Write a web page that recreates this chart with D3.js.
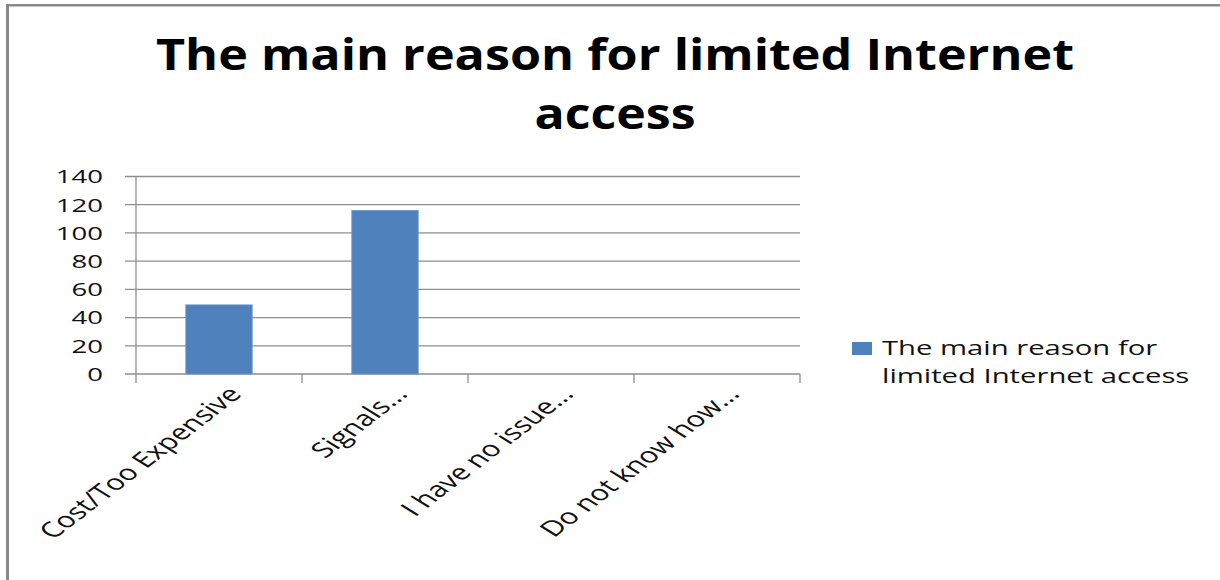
<!DOCTYPE html>
<html><head><meta charset="utf-8">
<script src="https://cdn.jsdelivr.net/npm/d3@7/dist/d3.min.js"></script>
<style>body{margin:0;background:#fff}svg{display:block}text{font-family:"Open Sans",sans-serif}</style>
</head><body>
<script>
const categories = ["Cost/Too Expensive", "Signals...", "I have no issue...", "Do not know how..."];
const values = [49, 116, 0, 0];
const yTicks = [0, 20, 40, 60, 80, 100, 120, 140];
const titleLines = ["The main reason for limited Internet", "access"];
const legendLines = ["The main reason for", "limited Internet access"];

const W = 1220, H = 580;
const svg = d3.select("body").append("svg").attr("width", W).attr("height", H);

// outer chart border (left/top visible)
svg.append("line").attr("x1", 6).attr("x2", W).attr("y1", 5.2).attr("y2", 5.2)
  .attr("stroke", "#8a8a8a").attr("stroke-width", 2.4);
svg.append("line").attr("x1", 7.5).attr("x2", 7.5).attr("y1", 4).attr("y2", H)
  .attr("stroke", "#8a8a8a").attr("stroke-width", 3);

const plot = {left: 136, right: 800, top: 176.5, bottom: 374};
const x = d3.scaleBand().domain(categories).range([plot.left, plot.right]).paddingInner(0.6).paddingOuter(0.3);
const xb = d3.scaleBand().domain(categories).range([plot.left, plot.right]);
const y = d3.scaleLinear().domain([0, 140]).range([plot.bottom, plot.top]);
const grey = "#8e8e8e";

// gridlines + y ticks
svg.append("g").selectAll("line").data(yTicks).join("line")
  .attr("x1", plot.left - 11).attr("x2", plot.right)
  .attr("y1", d => y(d)).attr("y2", d => y(d))
  .attr("stroke", grey).attr("stroke-width", 1.3);

// y axis line
svg.append("line").attr("x1", plot.left).attr("x2", plot.left)
  .attr("y1", y(140)).attr("y2", plot.bottom + 9).attr("stroke", grey).attr("stroke-width", 1.3);

// x ticks at band boundaries
const bounds = categories.map(c => xb(c)).concat([plot.right]);
svg.append("g").selectAll("line").data(bounds.slice(1)).join("line")
  .attr("x1", d => d).attr("x2", d => d)
  .attr("y1", plot.bottom).attr("y2", plot.bottom + 9)
  .attr("stroke", grey).attr("stroke-width", 1.3);

// y labels
svg.append("g").selectAll("text").data(yTicks).join("text")
  .attr("transform", d => `translate(103,${y(d)}) scale(1.45,1)`)
  .attr("text-anchor", "end").attr("dy", "0.36em")
  .attr("font-size", 19).attr("fill", "#111")
  .text(d => d);

// bars
svg.append("g").selectAll("rect").data(categories.map((c, i) => ({c, v: values[i]}))).join("rect")
  .attr("x", d => x(d.c)).attr("width", x.bandwidth())
  .attr("y", d => y(d.v)).attr("height", d => plot.bottom - y(d.v))
  .attr("fill", "#4f81bd").attr("stroke", "#6d97cc").attr("stroke-width", 0.8);

// x labels
svg.append("g").selectAll("text").data(categories).join("text")
  .attr("transform", d => `translate(${xb(d) + xb.bandwidth() / 2 + 24},${plot.bottom + 21}) scale(1.45,1) rotate(-48)`)
  .attr("text-anchor", "end").attr("font-size", 21.5).attr("fill", "#111")
  .text(d => d);

// title
const tw = [918, 161];
svg.append("g").selectAll("text").data(titleLines).join("text")
  .attr("x", 615).attr("y", (d, i) => 70 + i * 59)
  .attr("text-anchor", "middle").attr("font-size", 43).attr("font-weight", "bold").attr("fill", "#000")
  .attr("textLength", (d, i) => tw[i]).attr("lengthAdjust", "spacingAndGlyphs")
  .text(d => d);

// legend
svg.append("rect").attr("x", 852).attr("y", 342).attr("width", 20).attr("height", 13).attr("fill", "#4f81bd");
svg.append("g").selectAll("text").data(legendLines).join("text")
  .attr("transform", (d, i) => `translate(882,${355 + i * 28}) scale(1.5,1)`)
  .attr("font-size", 19.5).attr("fill", "#111")
  .text(d => d);
</script>
</body></html>
